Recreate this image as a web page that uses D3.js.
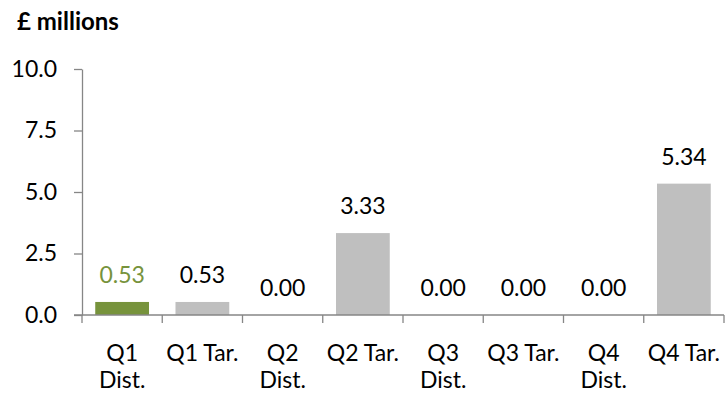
<!DOCTYPE html>
<html>
<head>
<meta charset="utf-8">
<script src="https://cdn.jsdelivr.net/npm/d3@7"></script>
<style>
  body { margin: 0; background: #fff; }
  svg { font-family: Lato, "Open Sans", sans-serif; }
</style>
</head>
<body>
<svg id="chart"></svg>
<script>
// chart data
var categories = ["Q1 Dist.", "Q1 Tar.", "Q2 Dist.", "Q2 Tar.", "Q3 Dist.", "Q3 Tar.", "Q4 Dist.", "Q4 Tar."];
var tickLines = [["Q1", "Dist."], ["Q1 Tar."], ["Q2", "Dist."], ["Q2 Tar."], ["Q3", "Dist."], ["Q3 Tar."], ["Q4", "Dist."], ["Q4 Tar."]];
var values = [0.53, 0.53, 0.00, 3.33, 0.00, 0.00, 0.00, 5.34];
var yTicks = [0, 2.5, 5, 7.5, 10];

var dimensions = {
    width: 725,
    height: 402,
    margin: { top: 69, bottom: 87, right: 1, left: 82 }
};

var svg = d3.select("#chart")
    .attr("width", dimensions.width)
    .attr("height", dimensions.height);

var axisColor = "#868686";
var green = "#77933C";
var grey = "#BFBFBF";
var fontSize = 23;

var x0 = dimensions.margin.left;
var x1 = dimensions.width - dimensions.margin.right;
var yBottom = dimensions.height - dimensions.margin.bottom;

// band per category (ticks sit on the band edges)
var xBand = d3.scaleBand()
    .domain(categories)
    .range([x0, x1])
    .padding(0);

// bar positions inside each band
var xBar = d3.scaleBand()
    .domain(categories)
    .range([x0, x1])
    .paddingInner(0.33)
    .paddingOuter(0.165);

var yScale = d3.scaleLinear()
    .domain([0, 10])
    .range([yBottom, dimensions.margin.top]);

// title
svg.append("text")
    .attr("x", 17)
    .attr("y", 30)
    .attr("font-weight", "bold")
    .attr("font-size", 24)
    .attr("fill", "#000")
    .text("£ millions");

// y axis
var yAxis = d3.axisLeft(yScale)
    .tickValues(yTicks)
    .tickFormat(d3.format(".1f"))
    .tickSize(8)
    .tickSizeOuter(0)
    .tickPadding(17);

var yG = svg.append("g")
    .attr("transform", `translate(${x0}, 0)`)
    .call(yAxis);
yG.select(".domain").attr("stroke", axisColor).attr("stroke-width", 1.3);
yG.selectAll(".tick line").attr("stroke", axisColor).attr("stroke-width", 1.3);
yG.selectAll(".tick text")
    .attr("font-size", fontSize)
    .attr("font-family", "Lato, sans-serif")
    .attr("fill", "#000");

// bars
svg.selectAll(".bar")
    .data(values)
    .enter()
    .append("rect")
    .attr("class", "bar")
    .attr("x", (d, i) => xBar(categories[i]))
    .attr("y", d => yScale(d))
    .attr("width", xBar.bandwidth())
    .attr("height", d => yBottom - yScale(d))
    .attr("fill", (d, i) => i === 0 ? green : grey);

// value labels
svg.selectAll(".value")
    .data(values)
    .enter()
    .append("text")
    .attr("class", "value")
    .attr("x", (d, i) => xBand(categories[i]) + xBand.bandwidth() / 2)
    .attr("y", d => yScale(d) - 19)
    .attr("text-anchor", "middle")
    .attr("font-size", fontSize)
    .attr("fill", (d, i) => i === 0 ? green : "#000")
    .text(d => d3.format(".2f")(d));

// x axis line and boundary ticks
var xG = svg.append("g");
xG.append("line")
    .attr("x1", x0 - 8)
    .attr("x2", x1)
    .attr("y1", yBottom)
    .attr("y2", yBottom)
    .attr("stroke", axisColor)
    .attr("stroke-width", 1.3);

var edges = categories.map(c => xBand(c)).concat([x1]);
xG.selectAll(".xtick")
    .data(edges)
    .enter()
    .append("line")
    .attr("class", "xtick")
    .attr("x1", d => d)
    .attr("x2", d => d)
    .attr("y1", yBottom)
    .attr("y2", yBottom + 8)
    .attr("stroke", axisColor)
    .attr("stroke-width", 1.3);

// category labels
var labels = xG.selectAll(".xlabel")
    .data(tickLines)
    .enter()
    .append("text")
    .attr("class", "xlabel")
    .attr("text-anchor", "middle")
    .attr("font-size", fontSize)
    .attr("fill", "#000");

labels.each(function(lines, i) {
    var cx = xBand(categories[i]) + xBand.bandwidth() / 2;
    d3.select(this).selectAll("tspan")
        .data(lines)
        .enter()
        .append("tspan")
        .attr("x", cx)
        .attr("y", (l, j) => yBottom + 46 + j * 27)
        .text(l => l);
});
</script>
</body>
</html>
